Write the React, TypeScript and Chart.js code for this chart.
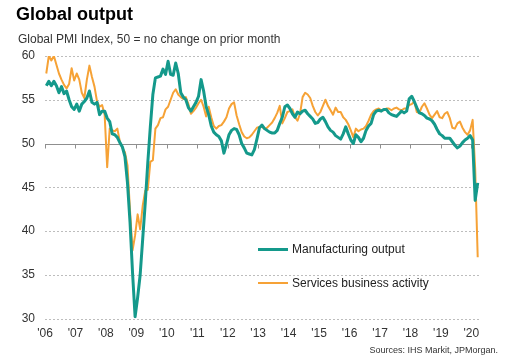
import React, { useEffect, useRef } from "react";
import { Chart, registerables } from "chart.js";

Chart.register(...registerables);

// ---- Data -------------------------------------------------------------
const yearLabels = ["'06", "'07", "'08", "'09", "'10", "'11", "'12", "'13", "'14", "'15", "'16", "'17", "'18", "'19", "'20"];
const yTickValues = [30, 35, 40, 45, 50, 55, 60];
const seriesNames = ["Manufacturing output", "Services business activity"];

// Monthly, Jan 2006 .. Mar 2020
const manufacturingOutput = [
  56.6, 57.1, 56.6, 57.1, 56.6, 55.8, 56.5, 55.7, 56.0, 55.0, 54.2, 53.9,
  54.5, 53.7, 54.5, 54.8, 55.2, 56.0, 54.7, 54.5, 54.7, 53.3, 53.7, 53.7,
  52.9, 52.5, 51.1, 51.0, 50.7, 50.1, 49.6, 48.5, 45.5, 41.0, 35.2, 30.2,
  32.4, 35.0, 39.1, 43.2, 47.8, 51.9, 55.6, 57.5, 57.6, 57.7, 58.5, 57.9,
  59.4, 57.9, 57.8, 59.2, 58.0, 55.8, 55.3, 55.0, 54.1, 53.7, 54.2, 54.7,
  55.4, 57.3, 56.0, 54.2, 53.3, 52.0, 51.3, 51.0, 50.8, 50.3, 48.9, 49.9,
  51.0, 51.5, 51.7, 51.6, 51.0, 50.0, 49.5, 48.9, 48.8, 48.7, 49.3, 50.5,
  51.8, 52.1, 51.7, 51.5, 51.3, 51.2, 51.2, 51.5, 52.3, 53.0, 54.2, 54.4,
  54.0, 53.4, 53.0, 53.6, 53.4, 53.7, 53.8, 53.4, 53.1, 52.8, 52.3, 52.4,
  52.8, 53.0, 52.5, 51.9, 51.5, 51.3, 50.9, 50.7, 50.5, 51.1, 51.9, 51.1,
  50.4, 50.0, 51.0, 50.7, 50.2, 50.6, 51.5, 52.0, 52.3, 53.3, 53.7, 53.8,
  53.7, 53.9, 53.9, 53.5, 53.3, 53.2, 53.1, 53.4, 53.7, 53.5, 53.7, 55.1,
  55.4, 54.8, 54.1, 53.5, 53.4, 53.2, 52.9, 52.8, 52.6, 52.2, 51.6, 51.1,
  50.9, 50.6, 50.6, 50.6, 50.2, 49.8, 49.5, 49.7, 50.1, 50.4, 50.6, 50.9,
  50.4, 43.5, 45.5,
];

const servicesActivity = [
  58.0, 60.0, 59.5, 60.0, 59.0, 58.0, 57.3, 56.7, 56.3, 56.8, 58.6, 57.2,
  58.0, 57.3, 55.8, 55.2, 57.3, 58.9, 57.6, 56.5, 54.8, 54.2, 54.4, 53.3,
  47.3, 51.7, 51.5, 51.4, 51.7, 50.2, 49.5, 49.0, 47.5, 42.3, 37.8, 39.5,
  41.9, 40.2, 42.9, 44.6, 44.7, 47.9, 48.1, 51.7, 52.1, 52.9, 53.0, 53.9,
  54.2, 55.0, 55.8, 56.2, 55.6, 55.3, 55.1, 55.3, 54.5, 53.4, 53.7, 54.1,
  54.6, 55.0, 54.2, 53.1, 54.2, 53.0, 52.0, 51.7, 52.0, 52.1, 52.5, 53.0,
  54.0, 54.5, 54.7, 53.2, 52.2, 51.3, 50.8, 50.6, 50.7, 51.0, 51.4, 51.8,
  51.9, 51.9, 51.7, 51.8, 52.1, 52.4, 52.9, 53.5, 54.3, 52.3, 52.9, 53.6,
  53.7, 53.9, 53.0, 52.6, 53.4, 55.3, 55.8, 55.6, 55.2, 54.3, 53.6, 53.2,
  53.6, 54.3, 55.0, 54.3, 53.8, 53.3, 54.1, 53.6, 53.6, 53.0, 52.7, 52.2,
  51.5, 50.7, 51.7, 51.4, 51.6, 51.7, 52.0, 52.6, 53.3, 53.7, 53.9, 54.0,
  53.8, 53.8, 54.0, 54.0, 53.8, 54.0, 54.1, 53.9, 53.8, 54.0, 54.0, 54.4,
  54.5, 54.8, 53.6, 53.5, 54.2, 54.6, 54.0, 53.3, 52.9, 53.3, 53.7, 53.0,
  52.9, 53.4, 53.6, 52.9, 51.8, 51.7, 52.3, 52.5, 51.8, 51.3, 51.0, 51.5,
  52.7, 47.1, 37.0,
];

// ---- Styles -----------------------------------------------------------
const TEAL = "#14998b";
const ORANGE = "#f6a236";
const FONT = "Arial, 'Liberation Sans', Helvetica, sans-serif";

const gridPlugin = {
  id: "pmiGrid",
  beforeDatasetsDraw(chart: any) {
    const { ctx, chartArea, scales } = chart;
    const { left, right } = chartArea;
    const x = scales.x;
    const y = scales.y;
    ctx.save();
    yTickValues.forEach((v) => {
      const py = Math.round(y.getPixelForValue(v)) + 0.5;
      ctx.beginPath();
      if (v === 50) {
        ctx.setLineDash([]);
        ctx.strokeStyle = "#8f8f8f";
      } else {
        ctx.setLineDash([2, 2]);
        ctx.strokeStyle = "#bdbdbd";
      }
      ctx.lineWidth = 1;
      ctx.moveTo(left, py);
      ctx.lineTo(right, py);
      ctx.stroke();
    });
    // small year tick marks hanging from the 50 line
    const p50 = Math.round(y.getPixelForValue(50)) + 0.5;
    ctx.setLineDash([]);
    ctx.strokeStyle = "#8f8f8f";
    yearLabels.forEach((_, i) => {
      const px = Math.round(x.getPixelForValue(i * 12)) + 0.5;
      ctx.beginPath();
      ctx.moveTo(px, p50);
      ctx.lineTo(px, p50 + 4);
      ctx.stroke();
    });
    ctx.restore();
  },
};

export default function App() {
  const canvasRef = useRef<HTMLCanvasElement>(null);

  useEffect(() => {
    const canvas = canvasRef.current;
    if (!canvas) return;
    Chart.defaults.font.family = FONT;
    const chart = new Chart(canvas, {
      type: "line",
      data: {
        datasets: [
          {
            label: seriesNames[0],
            data: manufacturingOutput.map((v, i) => ({ x: i + 0.5, y: v })),
            borderColor: TEAL,
            borderWidth: 3,
            pointRadius: 0,
            tension: 0,
            borderJoinStyle: "round",
          },
          {
            label: seriesNames[1],
            data: servicesActivity.map((v, i) => ({ x: i + 0.5, y: v })),
            borderColor: ORANGE,
            borderWidth: 2,
            pointRadius: 0,
            tension: 0,
            borderJoinStyle: "round",
          },
        ],
      },
      options: {
        animation: false,
        responsive: false,
        devicePixelRatio: 1,
        layout: { padding: { top: 56, right: 47, bottom: 0, left: 0 } },
        plugins: {
          legend: { display: false },
          tooltip: { enabled: false },
          title: { display: false },
        },
        scales: {
          x: {
            type: "linear",
            min: 0,
            max: 171.4,
            grid: { display: false, drawTicks: false },
            border: { display: false },
            afterBuildTicks: (s: any) => {
              s.ticks = yearLabels.map((_, i) => ({ value: i * 12 }));
            },
            afterFit: (s: any) => {
              s.height = 40.5;
            },
            ticks: {
              autoSkip: false,
              maxRotation: 0,
              padding: 8,
              color: "#333",
              font: { size: 12, family: FONT },
              callback: (_v: any, i: number) => yearLabels[i],
            },
          },
          y: {
            min: 30,
            max: 60,
            grid: { display: false, drawTicks: false },
            border: { display: false },
            afterBuildTicks: (s: any) => {
              s.ticks = yTickValues.map((v) => ({ value: v }));
            },
            afterFit: (s: any) => {
              s.width = 45;
            },
            ticks: {
              padding: 10,
              color: "#333",
              font: { size: 12, family: FONT },
            },
          },
        },
      },
      plugins: [gridPlugin],
    } as any);
    return () => chart.destroy();
  }, []);

  const abs = (s: React.CSSProperties): React.CSSProperties => ({
    position: "absolute",
    whiteSpace: "nowrap",
    margin: 0,
    ...s,
  });

  return (
    <div
      style={{
        position: "fixed",
        left: 0,
        top: 0,
        width: 527,
        height: 359,
        background: "#fff",
        fontFamily: FONT,
        overflow: "hidden",
      }}
    >
      <canvas ref={canvasRef} width={527} height={359} style={{ position: "absolute", left: 0, top: 0, width: 527, height: 359 }} />
      <div style={abs({ left: 16, top: 5, fontSize: 18, lineHeight: "18px", fontWeight: "bold", color: "#000" })}>Global output</div>
      <div style={abs({ left: 18, top: 32.5, fontSize: 12, lineHeight: "12px", color: "#333" })}>
        Global PMI Index, 50 = no change on prior month
      </div>
      <div style={abs({ left: 258, top: 248, width: 30, height: 3, background: TEAL })} />
      <div style={abs({ left: 292, top: 243, fontSize: 12, lineHeight: "12px", color: "#222" })}>{seriesNames[0]}</div>
      <div style={abs({ left: 258, top: 282, width: 30, height: 2, background: ORANGE })} />
      <div style={abs({ left: 292, top: 277, fontSize: 12, lineHeight: "12px", color: "#222" })}>{seriesNames[1]}</div>
      <div style={abs({ right: 29, top: 346, fontSize: 9, lineHeight: "9px", color: "#333" })}>Sources: IHS Markit, JPMorgan.</div>
    </div>
  );
}
